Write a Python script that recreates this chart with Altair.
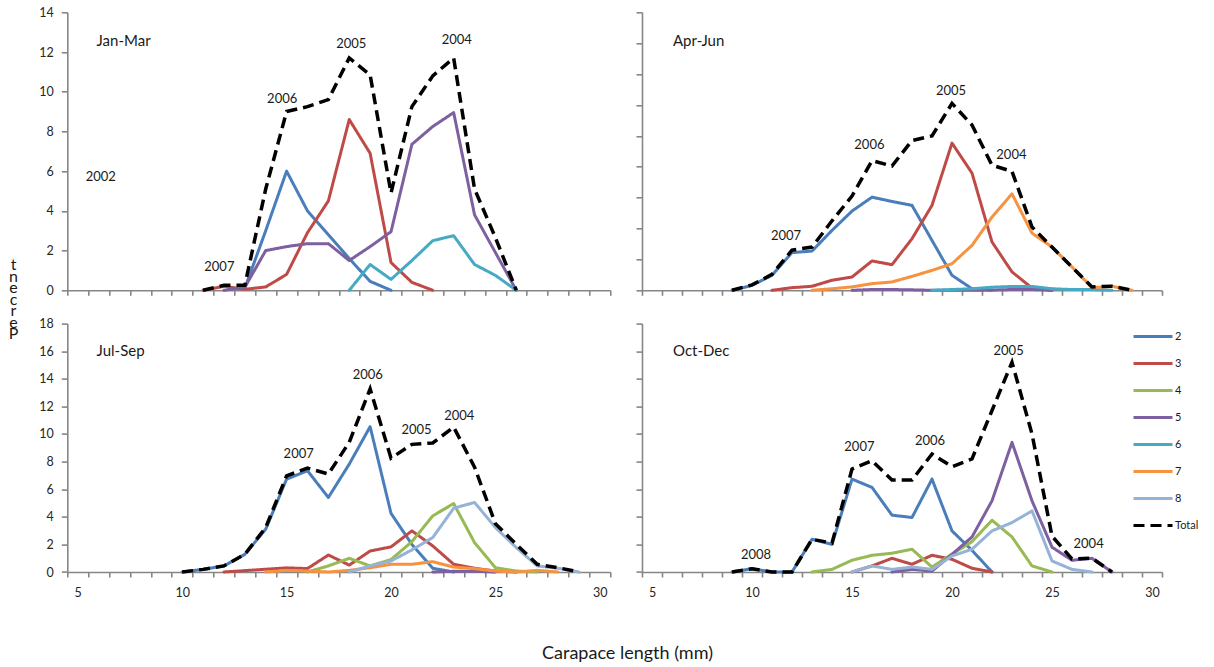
import altair as alt
import pandas as pd

FONT = "Lato"
SERIES = ["2", "3", "4", "5", "6", "7", "8", "Total"]
COLORS = ["#4A7EBB", "#BE4B48", "#98B954", "#7D60A0", "#46AAC5", "#F69240", "#95B3D7", "#000000"]
DASHES = [[1, 0]] * 7 + [[11, 6]]

# Each series: (first carapace-length class in mm, percentage per 1-mm class)
# Jan-Mar
jm_2 = (13, [0.1, 3.0, 6.0, 4.0, 2.8, 1.6, 0.45, 0.0])
jm_3 = (11, [0.0, 0.2, 0.05, 0.17, 0.8, 2.9, 4.5, 8.6, 6.9, 1.4, 0.4, 0.0])
jm_5 = (12, [0.0, 0.15, 2.0, 2.2, 2.35, 2.35, 1.5, 2.2, 2.95, 7.35, 8.25, 8.95, 3.8, 1.9, 0.0])
jm_6 = (18, [0.0, 1.3, 0.55, 1.5, 2.5, 2.75, 1.3, 0.75, 0.0])
jm_total = (11, [0.0, 0.25, 0.25, 5.1, 9.0, 9.25, 9.6, 11.7, 10.85, 4.9, 9.25, 10.8, 11.7, 5.1, 2.65, 0.0])

# Apr-Jun
aj_2 = (9, [0.0, 0.32, 0.97, 2.44, 2.54, 3.88, 5.13, 6.03, 5.75, 5.5, 3.23, 0.97, 0.1, 0.0])
aj_3 = (11, [0.0, 0.17, 0.26, 0.65, 0.86, 1.9, 1.66, 3.34, 5.5, 9.53, 7.59, 3.13, 1.19, 0.15, 0.0])
aj_5 = (15, [0.0, 0.05, 0.05, 0.03, 0.0, 0.0, 0.0, 0.02, 0.05, 0.05, 0.0])
aj_6 = (19, [0.0, 0.05, 0.1, 0.2, 0.25, 0.25, 0.1, 0.05, 0.05, 0.0])
aj_7 = (13, [0.0, 0.1, 0.22, 0.43, 0.54, 0.9, 1.29, 1.72, 2.91, 4.74, 6.25, 3.7, 2.8, 1.51, 0.17, 0.26, 0.0])
aj_total = (9, [0.0, 0.35, 1.03, 2.6, 2.8, 4.5, 6.1, 8.4, 8.05, 9.7, 10.0, 12.1, 10.7, 8.1, 7.7, 4.1, 2.8,
                1.51, 0.22, 0.26, 0.0])

# Jul-Sep
js_2 = (10, [0.0, 0.19, 0.44, 1.28, 3.1, 6.73, 7.34, 5.4, 7.82, 10.53, 4.25, 2.0, 0.27, 0.0])
js_3 = (12, [0.0, 0.1, 0.2, 0.3, 0.25, 1.23, 0.5, 1.52, 1.82, 2.98, 1.89, 0.56, 0.27, 0.07, 0.0])
js_4 = (16, [0.0, 0.44, 0.99, 0.44, 0.9, 2.2, 4.07, 4.96, 2.13, 0.31, 0.07, 0.0])
js_5 = (22, [0.0, 0.05, 0.05, 0.0])
js_7 = (14, [0.0, 0.12, 0.07, 0.0, 0.12, 0.31, 0.56, 0.56, 0.75, 0.36, 0.24, 0.07, 0.0, 0.12, 0.0])
js_8 = (18, [0.0, 0.44, 0.8, 1.6, 2.5, 4.62, 5.04, 3.22, 1.77, 0.44, 0.27, 0.0])
js_total = (10, [0.0, 0.19, 0.44, 1.28, 3.22, 6.97, 7.53, 7.1, 9.4, 13.27, 8.25, 9.25, 9.35, 10.5, 7.6, 3.5,
                 2.0, 0.56, 0.31, 0.0])

# Oct-Dec
od_2 = (9, [0.0, 0.24, 0.0, 0.0, 2.37, 2.0, 6.73, 6.13, 4.12, 3.95, 6.73, 2.98, 1.57, 0.0])
od_3 = (15, [0.0, 0.44, 0.99, 0.56, 1.21, 0.92, 0.27, 0.0])
od_4 = (13, [0.0, 0.19, 0.85, 1.21, 1.36, 1.65, 0.36, 1.3, 2.2, 3.75, 2.54, 0.44, 0.0])
od_5 = (17, [0.0, 0.19, 0.07, 1.28, 2.54, 5.16, 9.39, 5.16, 1.8, 0.85, 0.99, 0.0])
od_8 = (15, [0.0, 0.44, 0.19, 0.36, 0.19, 1.16, 1.65, 2.98, 3.58, 4.43, 0.8, 0.19, 0.0])
od_total = (9, [0.0, 0.24, 0.0, 0.0, 2.37, 2.1, 7.46, 8.06, 6.66, 6.66, 8.55, 7.63, 8.2, 11.7, 15.2, 10.0,
                2.6, 0.95, 1.0, 0.0])

# Quarter headings and year-class labels (length class, percent)
jm_heading = ("Jan-Mar", 5.9, 12.55)
jm_years = ["2002", "2007", "2006", "2005", "2004"]
jm_year_x = [6.1, 11.78, 14.79, 18.1, 23.15]
jm_year_y = [5.7, 1.17, 9.61, 12.41, 12.63]

aj_heading = ("Apr-Jun", 6.05, 16.14)
aj_years = ["2007", "2006", "2005", "2004"]
aj_year_x = [11.7, 15.87, 19.95, 22.97]
aj_year_y = [3.49, 9.38, 12.89, 8.73]

js_heading = ("Jul-Sep", 5.9, 16.0)
js_years = ["2007", "2006", "2005", "2004"]
js_year_x = [15.58, 18.89, 21.22, 23.27]
js_year_y = [8.55, 14.24, 10.31, 11.33]

od_heading = ("Oct-Dec", 6.05, 16.0)
od_years = ["2008", "2007", "2006", "2005", "2004"]
od_year_x = [10.2, 15.37, 18.9, 22.83, 26.83]
od_year_y = [1.21, 9.03, 9.52, 16.05, 2.0]

X_TICKS = [4.5 + i for i in range(27)]
X_LABEL_EXPR = "(datum.value + 0.5) % 5 == 0 ? format(datum.value + 0.5, 'd') : ''"
AXIS_GREY = "#868686"


def series_frame(named):
    rows = []
    for name, (start, values) in named.items():
        for i, v in enumerate(values):
            rows.append({"length": start + i, "pct": v, "series": name})
    return pd.DataFrame(rows)


def panel(named, heading, years, year_x, year_y, width, height, y_max,
          y_labels, x_labels, legend=False, y_title=None, x_title=None):
    df = series_frame(named)
    cat_w = width / 26.0

    x_axis_kw = dict(values=X_TICKS, tickCount=100, labels=x_labels, tickSize=5, grid=False,
                     labelExpr=X_LABEL_EXPR, labelOffset=cat_w / 2, labelOverlap=False,
                     labelFlush=False, labelPadding=9, labelFontSize=12.5)
    if x_title:
        x_axis_kw.update(title=x_title, titleX=627 - 67.3, titleY=86, titleAnchor="middle",
                         titleBaseline="alphabetic", titleFontSize=18, titleFontWeight="normal",
                         titleFont=FONT, titleColor="#1a1a1a")
    y_ticks = list(range(0, y_max + 1, 2))
    y_axis_kw = dict(values=y_ticks, tickCount=100, format="d", labels=y_labels, tickSize=6,
                     grid=False, labelOverlap=False, labelPadding=8, labelFontSize=12.5)
    if y_title:
        y_axis_kw.update(title=y_title, titleAngle=0, titleX=-54.3, titleY=244.5,
                         titleBaseline="top", titleAlign="center", titleLineHeight=11.5,
                         titleFontSize=16, titleFontWeight="normal", titleFont=FONT,
                         titleColor="#1a1a1a")

    x_enc = alt.X("length:Q", scale=alt.Scale(domain=[4.5, 30.5], nice=False, zero=False),
                  axis=alt.Axis(**x_axis_kw), title=x_title if x_title else None)
    y_enc = alt.Y("pct:Q", scale=alt.Scale(domain=[0, y_max], nice=False),
                  axis=alt.Axis(**y_axis_kw), title=y_title if y_title else None)

    if legend:
        leg = alt.Legend(title=None, orient="none", legendX=490, legendY=-8, symbolType="stroke",
                         symbolSize=1521, symbolStrokeWidth=3, labelFontSize=11, labelFont=FONT,
                         labelColor="#1a1a1a", labelOffset=1, rowPadding=-14, padding=0)
        color = alt.Color("series:N", scale=alt.Scale(domain=SERIES, range=COLORS), legend=leg)
        dash = alt.StrokeDash("series:N", scale=alt.Scale(domain=SERIES, range=DASHES), legend=leg)
    else:
        color = alt.Color("series:N", scale=alt.Scale(domain=SERIES, range=COLORS), legend=None)
        dash = alt.StrokeDash("series:N", scale=alt.Scale(domain=SERIES, range=DASHES), legend=None)

    base = alt.Chart(df)
    parts = base.transform_filter(alt.datum.series != "Total").mark_line(
        strokeWidth=3, strokeJoin="round", strokeCap="round"
    ).encode(x=x_enc, y=y_enc, color=color, strokeDash=dash, detail="series:N")
    total = base.transform_filter(alt.datum.series == "Total").mark_line(
        strokeWidth=3.5, strokeJoin="miter", strokeCap="butt"
    ).encode(x=x_enc, y=y_enc, color=color, strokeDash=dash, detail="series:N")

    head_df = pd.DataFrame({"label": [heading[0]], "length": [heading[1]], "pct": [heading[2]]})
    head = alt.Chart(head_df).mark_text(font=FONT, fontSize=15, align="left", baseline="middle",
                                        color="#1a1a1a").encode(
        x="length:Q", y="pct:Q", text="label:N")
    yr_df = pd.DataFrame({"label": years, "length": year_x, "pct": year_y})
    yrs = alt.Chart(yr_df).mark_text(font=FONT, fontSize=13, align="center", baseline="middle",
                                     color="#1a1a1a").encode(
        x="length:Q", y="pct:Q", text="label:N")

    return alt.layer(parts, total, head, yrs).properties(width=width, height=height)


top_left = panel({"2": jm_2, "3": jm_3, "5": jm_5, "6": jm_6, "Total": jm_total},
                 jm_heading, jm_years, jm_year_x, jm_year_y, 543, 278, 14,
                 y_labels=True, x_labels=False, y_title=list("tnecreP"))
top_right = panel({"2": aj_2, "3": aj_3, "5": aj_5, "6": aj_6, "7": aj_7, "Total": aj_total},
                  aj_heading, aj_years, aj_year_x, aj_year_y, 520, 278, 18,
                  y_labels=False, x_labels=False)
bottom_left = panel({"2": js_2, "3": js_3, "4": js_4, "5": js_5, "7": js_7, "8": js_8, "Total": js_total},
                    js_heading, js_years, js_year_x, js_year_y, 543, 248.4, 18,
                    y_labels=True, x_labels=True, x_title="Carapace length (mm)")
bottom_right = panel({"2": od_2, "3": od_3, "4": od_4, "5": od_5, "8": od_8, "Total": od_total},
                     od_heading, od_years, od_year_x, od_year_y, 520, 248.4, 18,
                     y_labels=False, x_labels=True, legend=True)

chart = alt.concat(
    top_left, top_right, bottom_left, bottom_right,
    columns=2, spacing={"row": 33.3, "column": 31.7}, bounds="flush",
).resolve_scale(
    color="independent", strokeDash="independent", x="independent", y="independent"
).configure_view(stroke=None).configure_axis(
    domainColor=AXIS_GREY, domainWidth=1.6, tickColor=AXIS_GREY, tickWidth=1.6,
    labelColor="#262626", labelFont=FONT,
).properties(
    autosize=alt.AutoSizeParams(type="none"),
    padding={"left": 67.3, "top": 12.3, "right": 1214 - 67.3, "bottom": 667 - 12.3},
    background="white",
)

chart.save("out.html", embed_options={"renderer": "svg", "actions": False})
